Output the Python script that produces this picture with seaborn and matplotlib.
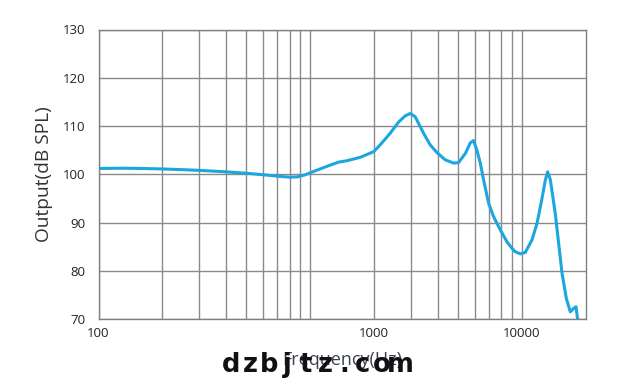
import matplotlib
matplotlib.use("Agg")
import matplotlib.pyplot as plt
import seaborn as sns
import pandas as pd
from matplotlib.ticker import NullFormatter

# ---- data ----
freq_hz = [100, 130, 160, 200, 250, 300, 400, 500, 600, 700, 800, 870, 950,
           1000, 1114, 1245, 1361, 1490, 1722, 2000, 2143, 2390, 2615, 2812,
           2972, 3137, 3435, 3690, 3972, 4345, 4770, 5020, 5410, 5710, 5916,
           6135, 6370, 6600, 6970, 7360, 7910, 8510, 8990, 9310, 9840, 10390,
           11170, 11800, 12460, 12920, 13250, 13650, 14390, 14930, 15490,
           16230, 16950, 17580, 18040, 18370]
output_db = [101.2, 101.25, 101.2, 101.1, 100.95, 100.8, 100.5, 100.2, 99.9,
             99.6, 99.4, 99.45, 99.9, 100.3, 101.1, 101.9, 102.5, 102.8,
             103.5, 104.7, 106.1, 108.5, 110.8, 112.1, 112.6, 111.9, 108.5,
             106.1, 104.5, 103.0, 102.3, 102.4, 104.3, 106.5, 107.0, 105.0,
             102.3, 98.8, 94.0, 91.2, 88.5, 86.0, 84.65, 83.95, 83.5, 83.8,
             86.4, 89.8, 95.0, 98.8, 100.5, 98.8, 91.9, 85.7, 79.5, 74.3,
             71.5, 72.2, 72.55, 69.8]

x_tick_pos = [100, 2000, 10000]
x_tick_labels = ["100", "1000", "10000"]
x_grid_pos = [200, 300, 400, 500, 600, 700, 800, 900, 1000,
              3000, 4000, 5000, 6000, 7000, 8000, 9000]
y_ticks = [70, 80, 90, 100, 110, 120, 130]
watermark = "dzbjtz.com"

df = pd.DataFrame({"freq": freq_hz, "db": output_db})

sns.set_style("white")
plt.rcParams["font.family"] = ["Open Sans", "DejaVu Sans"]

fig = plt.figure(figsize=(6.35, 3.87), dpi=100)
W, H = 635, 387
left, right, top, bottom = 98.5, 585.5, 29.5, 319
ax = fig.add_axes([left / W, 1 - bottom / H, (right - left) / W, (bottom - top) / H])

line_kw = dict(solid_joinstyle="round", solid_capstyle="round")
sns.lineplot(data=df, x="freq", y="db", ax=ax, color="#1BA6DF", lw=2.2,
             zorder=3, clip_on=True, **line_kw)

ax.set_xscale("log")
ax.set_xlim(100, 20000)
ax.set_ylim(70, 130)
ax.set_xticks(x_tick_pos)
ax.set_xticklabels(x_tick_labels)
ax.set_xticks(x_grid_pos, minor=True)
ax.xaxis.set_minor_formatter(NullFormatter())
ax.set_yticks(y_ticks)
ax.tick_params(axis="both", which="both", length=0, labelsize=9.5,
               colors="#222222")
ax.tick_params(axis="y", pad=9.5)
ax.tick_params(axis="x", pad=6)

gcol = "#8a8a8a"
ax.grid(True, which="both", axis="x", color=gcol, lw=1.0)
ax.grid(True, which="major", axis="y", color=gcol, lw=1.0)
for s in ax.spines.values():
    s.set_color("#808080")
    s.set_linewidth(1.0)

ax.set_xlabel("Frequency(Hz)", fontsize=13, color="#3a4250")
ax.set_ylabel("Output(dB SPL)", fontsize=13.8, color="#333333")
ax.xaxis.set_label_coords(0.5, (bottom - 360) / (bottom - top))
ax.xaxis.label.set_va("center")
ax.yaxis.set_label_coords((44 - left) / (right - left), 0.5)
ax.yaxis.label.set_va("center")

# watermark, character by character
x0, pitch = 221.7 + 9.4, 18.8
for i, ch in enumerate(watermark):
    fig.text((x0 + pitch * i) / W, 1 - 371.7 / H, ch, ha="center",
             va="baseline", fontsize=18.5, fontweight="bold",
             family="DejaVu Sans", color="#111111", zorder=10)

fig.savefig("out.png", dpi=100)
